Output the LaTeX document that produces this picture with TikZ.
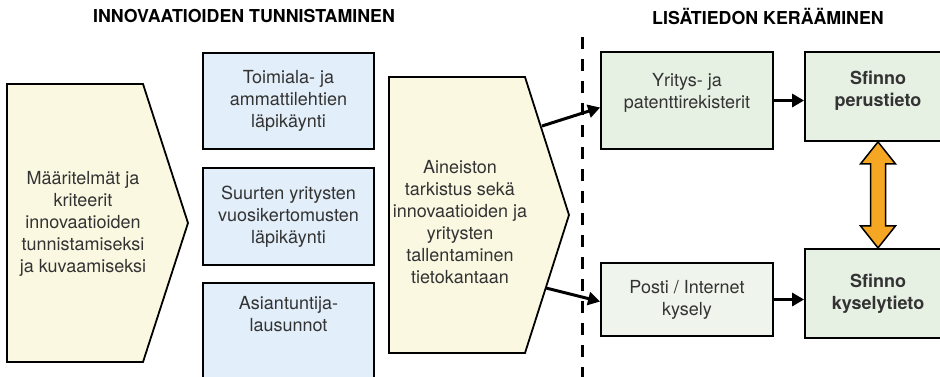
\documentclass[tikz,border=0pt]{standalone}
\usepackage{fontspec}
\setmainfont{TeX Gyre Heros}
\usepackage{tikz}
\usetikzlibrary{positioning, calc, arrows.meta}
\definecolor{creamfill}{HTML}{FBF8E2}
\definecolor{bluefill}{HTML}{E2EEF9}
\definecolor{greenfill}{HTML}{E6F0E3}
\definecolor{paletgreen}{HTML}{EFF5EC}
\definecolor{orangefill}{HTML}{F5A623}
\definecolor{textgray}{HTML}{333333}

\begin{document}
\begin{tikzpicture}[x=1pt, y=-1pt,
    every node/.style={text=textgray, font=\fontsize{18}{22}\selectfont, align=center, line width=1.8pt, inner sep=0pt},
    pent/.style={draw, fill=creamfill, line width=1.8pt, line join=miter},
    bluebox/.style={draw, fill=bluefill, minimum width=171pt},
    greenbox/.style={draw, fill=greenfill},
    core/.style={greenbox, minimum width=146pt, minimum height=89pt, font=\fontsize{18}{22}\selectfont\bfseries},
    heading/.style={text=black, font=\fontsize{17.8}{21}\selectfont\bfseries},
    flow/.style={line width=3pt, -{Triangle[length=12pt, width=13pt]}},
    divider/.style={line width=3pt, dash pattern=on 12pt off 10pt},
    dblarrow/.style={draw, line width=1.5pt, fill=orangefill, line join=miter}]
  \useasboundingbox (0,0) rectangle (940,376);
  \clip (0,0) rectangle (940,376);

  \node[heading] (h1) at (244,16.5) {INNOVAATIOIDEN TUNNISTAMINEN};
  \node[heading] (h2) at (768,16.5) {LISÄTIEDON KERÄÄMINEN};

  \draw[pent] (7,84) -- (143,84) -- (188,223) -- (143,362) -- (7,362) -- cycle;
  \node (def) at (83,224)
    {Määritelmät ja\\kriteerit\\innovaatioiden\\tunnistamiseksi\\ja kuvaamiseksi};

  \node[bluebox, minimum height=96pt] (b1) at (288.5,101) {Toimiala- ja\\ammattilehtien\\läpikäynti};
  \node[bluebox, minimum height=97pt, below=17pt of b1] (b2) {Suurten yritysten\\vuosikertomusten\\läpikäynti};
  \node[bluebox, minimum height=104pt, below=16pt of b2] (b3) {Asiantuntija-\\lausunnot\\[20pt]\mbox{}};

  \draw[pent] (389,77) -- (525,77) -- (569,215) -- (525,353) -- (389,353) -- cycle;
  \node (mid) at (460,222)
    {Aineiston\\tarkistus sekä\\innovaatioiden ja\\yritysten\\tallentaminen\\tietokantaan};
  \coordinate (mout1) at (542,126);
  \coordinate (mout2) at (546,288);

  \coordinate (dtop) at (582,37);
  \coordinate (dbot) at (582,380);
  \draw[divider] (dtop) -- (dbot);

  \node[greenbox, minimum width=172pt, minimum height=97pt] (yrit) at (687,100.5) {Yritys- ja\\patenttirekisterit\\[-3pt]\mbox{}};
  \node[greenbox, fill=paletgreen, minimum width=172pt, minimum height=73pt] (posti) at (687,299.5) {Posti / Internet\\kysely};
  \node[core] (perus) at (878,96.5) {Sfinno\\perustieto\\[-7pt]\mbox{}};
  \node[core, below=106pt of perus] (kysely) {Sfinno\\kyselytieto};

  \draw[flow] (mout1) -- ($(yrit.west)+(0,7)$);
  \draw[flow] (mout2) -- ($(posti.west)+(0,2)$);
  \draw[flow] (yrit.east) -- (yrit.east -| perus.west);
  \draw[flow] (posti.east) -- (posti.east -| kysely.west);

  \draw[dblarrow] (perus.south) -- ++(17.5,22) -- ++(-10,0) -- ($(kysely.north)+(7.5,-22)$)
    -- ++(10,0) -- (kysely.north) -- ++(-17.5,-22) -- ++(10,0)
    -- ($(perus.south)+(-7.5,22)$) -- ++(-10,0) -- cycle;
\end{tikzpicture}
\end{document}
